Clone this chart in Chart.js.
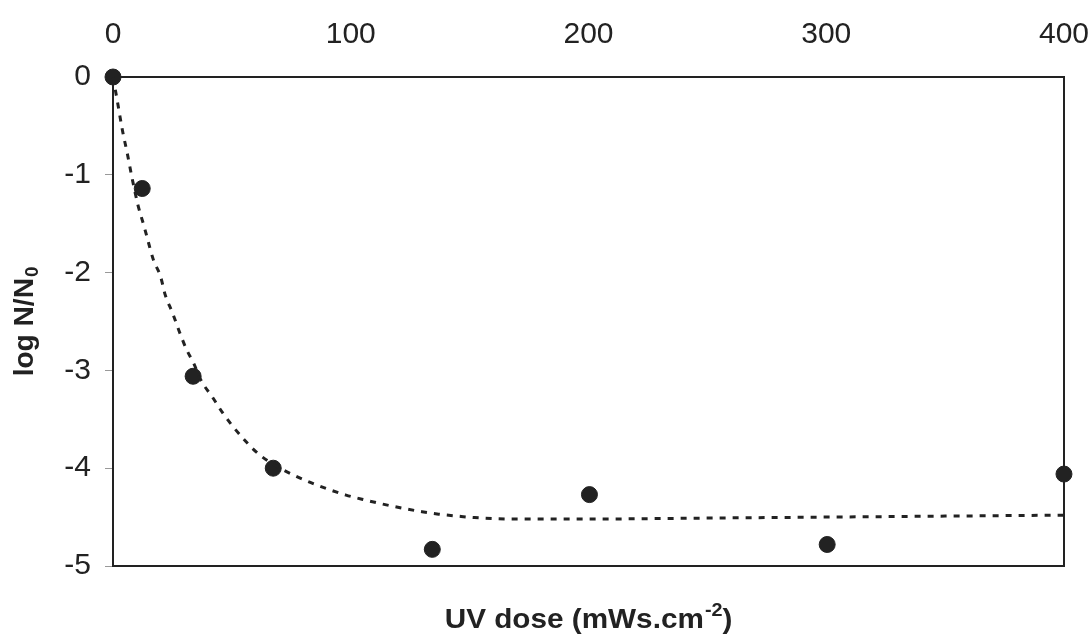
<!DOCTYPE html>
<html>
<head>
<meta charset="utf-8">
<script src="https://cdn.jsdelivr.net/npm/chart.js@4.4.0/dist/chart.umd.min.js"></script>
<style>
  html, body { margin: 0; padding: 0; background: #fff; }
  #wrap { width: 1089px; height: 634px; }
</style>
</head>
<body>
<div id="wrap"><canvas id="uvChart" width="1089" height="634"></canvas></div>
<script>
// measured points (UV dose vs log N/N0)
const doseValues = [0, 12.3, 33.7, 67.4, 134.3, 200.4, 300.4, 400];
const logValues = [0, -1.14, -3.06, -4.0, -4.83, -4.27, -4.78, -4.06];

// dashed fitted curve
const fitDose = [0, 2, 4, 6, 8, 10.5, 13, 15, 17, 20, 22, 25, 28, 31, 34, 37, 42, 46, 50, 56,
    61, 68, 76, 83, 90, 98, 106, 114, 122, 130, 137, 145, 152, 170, 200, 250, 300, 350, 400];
const fitLog = [0, -0.27, -0.55, -0.78, -1.03, -1.31, -1.52, -1.70, -1.87, -2.04, -2.23, -2.41, -2.61, -2.79, -2.93, -3.10, -3.28, -3.43, -3.56, -3.73,
    -3.85, -3.97, -4.07, -4.145, -4.21, -4.275, -4.325, -4.37, -4.41, -4.445, -4.47, -4.49, -4.505, -4.52, -4.52, -4.51, -4.50, -4.49, -4.48];

const xTicks = [0, 100, 200, 300, 400];
const yTicks = [0, -1, -2, -3, -4, -5];

const ink = '#222';
const fontName = '"Liberation Sans", Arial, sans-serif';

// axis titles with super/subscript
const axisTitles = {
    id: 'axisTitles',
    afterDraw(chart) {
        const ctx = chart.ctx;
        ctx.save();
        ctx.fillStyle = ink;
        ctx.textBaseline = 'alphabetic';

        // x title at the bottom (slightly wide, like the original)
        const big = 'bold 27px ' + fontName;
        const small = 'bold 18px ' + fontName;
        const stretch = 1.1;
        ctx.font = big;
        const a = 'UV dose (mWs.cm';
        const c = ')';
        const wa = ctx.measureText(a).width;
        const wc = ctx.measureText(c).width;
        ctx.font = small;
        const wb = ctx.measureText('-2').width;
        ctx.save();
        ctx.translate(588, 628);
        ctx.scale(stretch, 1);
        const x = -(wa + wb + wc) / 2;
        ctx.font = big;
        ctx.fillText(a, x, 0);
        ctx.font = small;
        ctx.fillText('-2', x + wa + 1, -12);
        ctx.font = big;
        ctx.fillText(c, x + wa + wb + 1, 0);
        ctx.restore();

        // y title, rotated
        ctx.translate(33, 322);
        ctx.rotate(-Math.PI / 2);
        ctx.scale(1.04, 1);
        ctx.font = big;
        const t = 'log N/N';
        const wt = ctx.measureText(t).width;
        ctx.font = small;
        const ws = ctx.measureText('0').width;
        const sx = -(wt + ws) / 2;
        ctx.font = big;
        ctx.fillText(t, sx, 0);
        ctx.font = small;
        ctx.fillText('0', sx + wt + 1, 5);
        ctx.restore();
    }
};

const ctx = document.getElementById('uvChart').getContext('2d');
new Chart(ctx, {
    type: 'scatter',
    data: {
        datasets: [{
            label: 'fit',
            type: 'line',
            data: fitDose.map((d, i) => ({ x: d, y: fitLog[i] })),
            borderColor: ink,
            borderWidth: 3,
            borderDash: [6, 7],
            pointRadius: 0,
            fill: false,
            cubicInterpolationMode: 'monotone',
            clip: false
        }, {
            label: 'data',
            data: doseValues.map((d, i) => ({ x: d, y: logValues[i] })),
            backgroundColor: ink,
            borderColor: ink,
            pointRadius: 8,
            pointHoverRadius: 8,
            clip: false
        }]
    },
    options: {
        responsive: false,
        animation: false,
        events: [],
        layout: { padding: 0 },
        plugins: {
            legend: { display: false },
            tooltip: { enabled: false }
        },
        scales: {
            x: {
                type: 'linear',
                position: 'top',
                min: 0,
                max: 400,
                afterBuildTicks: (s) => { s.ticks = xTicks.map(v => ({ value: v })); },
                afterFit: (s) => { s.height = 77; },
                ticks: { font: { family: fontName, size: 30 }, color: ink, padding: 0, maxRotation: 0 },
                grid: { display: true, drawOnChartArea: false, drawTicks: true, tickLength: 24, color: 'rgba(0,0,0,0)' },
                border: { display: true, color: ink, width: 2 }
            },
            y: {
                type: 'linear',
                position: 'left',
                min: -5,
                max: 0,
                afterBuildTicks: (s) => { s.ticks = yTicks.map(v => ({ value: v })); },
                afterFit: (s) => { s.width = 113; },
                ticks: { font: { family: fontName, size: 30 }, color: ink, padding: 14 },
                grid: { drawOnChartArea: false, tickLength: 8, color: '#999', lineWidth: 1 },
                border: { display: true, color: ink, width: 2 }
            },
            x2: {
                type: 'linear',
                position: 'bottom',
                afterFit: (s) => { s.height = 68; },
                ticks: { display: false },
                grid: { display: false },
                border: { display: true, color: ink, width: 2 }
            },
            y2: {
                type: 'linear',
                position: 'right',
                afterFit: (s) => { s.width = 0; },
                ticks: { display: false },
                grid: { display: false },
                border: { display: true, color: ink, width: 2 }
            }
        }
    },
    plugins: [axisTitles]
});
</script>
</body>
</html>
